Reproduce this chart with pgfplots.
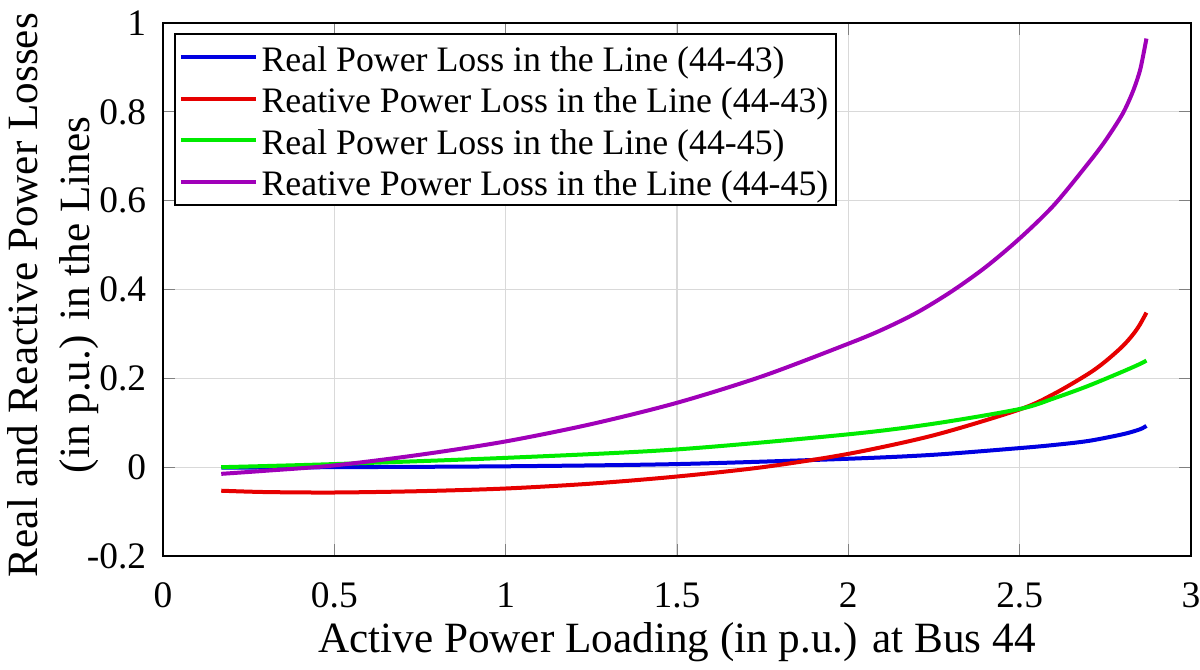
\documentclass[border=0pt]{standalone}
\usepackage{fontspec}
\setmainfont{Liberation Serif}
\usepackage{pgfplots}
\pgfplotsset{compat=1.18}

\definecolor{lblue}{RGB}{0,0,225}
\definecolor{lred}{RGB}{230,0,0}
\definecolor{lgreen}{RGB}{0,235,0}
\definecolor{lpurple}{RGB}{160,0,185}

\begin{document}
\begin{tikzpicture}
\useasboundingbox (-40.75pt,-28.25pt) rectangle (259.25pt,139pt);
\begin{axis}[
    at={(0,0)}, anchor=south west,
    scale only axis,
    width=257pt, height=133.25pt,
    xmin=0, xmax=3, ymin=-0.2, ymax=1,
    xtick={0,0.5,...,3},
    ytick={-0.2,0,0.2,0.4,0.6,0.8,1},
    /pgf/number format/assume math mode=true,
    tick label style={font=\fontsize{9.35}{11}\selectfont},
    xticklabel style={anchor=base, inner sep=0pt, yshift=-12.75pt},
    yticklabel style={anchor=east, inner sep=0pt, xshift=-4pt},
    tick align=inside,
    major tick length=3pt,
    axis line style={line width=0.5pt},
    grid=major,
    grid style={gray!30, line width=0.3pt},
    xlabel={Active Power Loading (in p.u.) at Bus 44},
    xlabel style={font=\fontsize{10.8}{12}\selectfont, at={(axis description cs:0.5,0)}, anchor=base, inner sep=0pt, yshift=-24pt},
    ylabel={Real and Reactive Power Losses\\(in p.u.) in the Lines},
    ylabel style={font=\fontsize{10.8}{13}\selectfont, align=center, at={(axis description cs:0,0.5)}, anchor=center, xshift=-1.4pt, yshift=27.35pt},
    legend cell align=left,
    legend style={at={(axis description cs:0,1)}, anchor=north west, xshift=2.75pt, yshift=-2.5pt,
        font=\fontsize{8.95}{10.4}\selectfont, inner xsep=1pt, inner ysep=0.55pt,
        row sep=0pt, column sep=0pt, draw=black, line width=0.5pt,
        nodes={inner xsep=0.9pt, inner ysep=0pt, text height=8.7pt, text depth=1.7pt}},
    legend image code/.code={\draw[#1, line width=1pt] (0pt,0pt) -- (18.75pt,0pt);},
    every axis plot/.append style={line width=1pt, smooth, tension=0.5},
]
\addplot[lblue] coordinates {
(0.17,-0.001) (0.5,0.000) (1.0,0.002) (1.5,0.007) (2.0,0.019) (2.25,0.028)
(2.5,0.043) (2.6,0.050) (2.7,0.059) (2.8,0.074) (2.85,0.085) (2.87,0.093)
};
\addplot[lred] coordinates {
(0.17,-0.053) (0.3,-0.056) (0.5,-0.057) (0.75,-0.054) (1.0,-0.048) (1.25,-0.037)
(1.5,-0.021) (1.75,0.000) (2.0,0.030) (2.25,0.072) (2.5,0.130) (2.6,0.165)
(2.7,0.210) (2.75,0.238) (2.8,0.272) (2.83,0.298) (2.85,0.320) (2.87,0.348)
};
\addplot[lgreen] coordinates {
(0.17,0.000) (0.5,0.007) (1.0,0.021) (1.5,0.040) (2.0,0.074) (2.25,0.098)
(2.5,0.131) (2.6,0.155) (2.7,0.183) (2.8,0.215) (2.85,0.232) (2.87,0.240)
};
\addplot[lpurple] coordinates {
(0.17,-0.015) (0.3,-0.008) (0.5,0.004) (0.75,0.028) (1.0,0.058) (1.25,0.097)
(1.5,0.145) (1.75,0.205) (2.0,0.278) (2.1,0.310) (2.2,0.348) (2.3,0.395)
(2.4,0.450) (2.5,0.515) (2.6,0.590) (2.7,0.684) (2.75,0.735) (2.8,0.795)
(2.83,0.845) (2.85,0.890) (2.86,0.925) (2.87,0.965)
};
\legend{Real Power Loss in the Line (44-43),
        Reative Power Loss in the Line (44-43),
        Real Power Loss in the Line (44-45),
        Reative Power Loss in the Line (44-45)}
\end{axis}
\end{tikzpicture}
\end{document}
